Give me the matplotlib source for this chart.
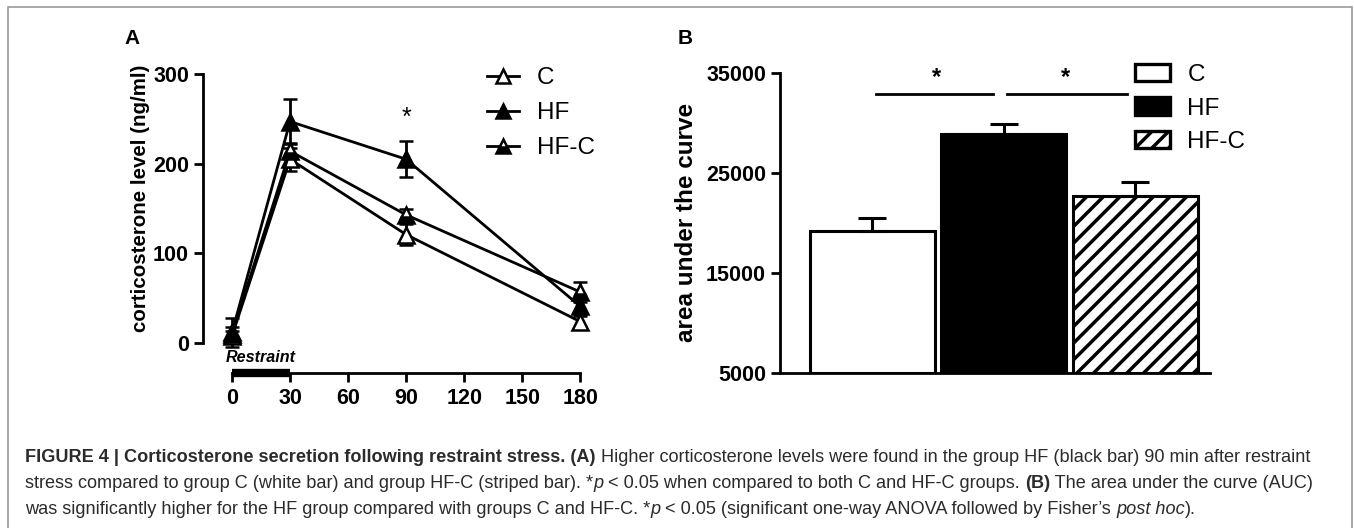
import numpy as np
import matplotlib
matplotlib.use("Agg")
import matplotlib.pyplot as plt
from matplotlib.lines import Line2D
from matplotlib.patches import Patch, Rectangle
from matplotlib.transforms import IdentityTransform

plt.rcParams['font.family'] = ['Liberation Sans', 'DejaVu Sans']
plt.rcParams['hatch.linewidth'] = 2.5

# panel A: corticosterone (ng/ml) over time (min)
time = [0, 30, 90, 180]
c_mean = [8, 205, 121, 24]
c_err = [6, 13, 12, 6]
hf_mean = [12, 247, 205, 41]
hf_err = [16, 25, 20, 8]
hfc_mean = [10, 214, 143, 57]
hfc_err = [8, 9, 6, 11]
restraint = [0, 30]

# panel B: area under the curve
groups = ['C', 'HF', 'HF-C']
auc_mean = [19200, 28900, 22700]
auc_err = [1300, 1000, 1400]

W, H = 1354, 528
fig = plt.figure(figsize=(W / 100, H / 100), dpi=100)

def fx(px):
    return px / W

def fy(py):
    return 1 - py / H

# frame around the figure (bottom edge falls outside the picture)
fig.patches.append(Rectangle((fx(8), fy(535)), fx(1352) - fx(8), fy(7) - fy(535),
                             transform=fig.transFigure, fill=False,
                             edgecolor='#9a9a9a', lw=1.2))

tick_size = 15.5

# ---------- panel A ----------
axA = fig.add_axes([fx(203), fy(373), fx(586) - fx(203), fy(74) - fy(373)])
axA.set_xlim(-15, 183)
axA.set_ylim(-33.3, 300)
lw = 2.0
ekw = dict(capsize=5, capthick=lw, elinewidth=lw, lw=lw, color='black',
           markersize=11, clip_on=False, markeredgewidth=1.8)
axA.errorbar(time, c_mean, yerr=c_err, marker='^', mfc='white', **ekw)
axA.errorbar(time, hfc_mean, yerr=hfc_err, marker='^', fillstyle='bottom',
             mfc='black', mfcalt='white', **ekw)
axA.errorbar(time, hf_mean, yerr=hf_err, marker='^', mfc='black', **ekw)
axA.text(90, 238, '*', ha='center', va='bottom', fontsize=18)

for s in ['top', 'right']:
    axA.spines[s].set_visible(False)
axA.spines['left'].set_bounds(0, 300)
axA.spines['bottom'].set_bounds(0, 180)
for s in ['left', 'bottom']:
    axA.spines[s].set_linewidth(2)
axA.set_yticks([0, 100, 200, 300])
axA.set_xticks([0, 30, 60, 90, 120, 150, 180])
axA.tick_params(width=2, length=6.5, labelsize=tick_size)
axA.tick_params(axis='x', pad=4.5)
for t in axA.get_xticklabels() + axA.get_yticklabels():
    t.set_fontweight('bold')
axA.plot(restraint, [-33.3, -33.3], color='black', lw=6, solid_capstyle='butt',
         clip_on=False)
axA.text(-3, -16, 'Restraint', fontsize=11.6, weight='bold', style='italic',
         ha='left', va='center')
axA.set_ylabel('corticosterone level (ng/ml)', fontsize=14.8, weight='bold')
axA.yaxis.set_label_coords(-0.138, 0.585)

handlesA = [
    Line2D([], [], color='black', lw=lw, marker='^', mfc='white', markersize=10, mew=1.8),
    Line2D([], [], color='black', lw=lw, marker='^', mfc='black', markersize=10, mew=1.8),
    Line2D([], [], color='black', lw=lw, marker='^', fillstyle='bottom', mfc='black',
           mfcalt='white', markersize=10, mew=1.8),
]
fig.legend(handlesA, groups, loc='upper left', bbox_to_anchor=(fx(475), fy(55)),
           frameon=False, fontsize=17.5, handlelength=1.3, handletextpad=0.75,
           labelspacing=0.54, borderpad=0)

fig.text(fx(132), fy(38), 'A', fontsize=15, weight='bold', ha='center', va='center')

# ---------- panel B ----------
axB = fig.add_axes([fx(780), fy(373), fx(1210) - fx(780), fy(73) - fy(373)])
x = np.arange(len(groups))
axB.set_xlim(-0.70, 2.57)
axB.set_ylim(5000, 35000)
faces = ['white', 'black', 'white']
hatches = [None, None, '//']
axB.bar(x, np.array(auc_mean) - 5000, bottom=5000, width=0.95,
        color=faces, edgecolor='black', linewidth=2.2, hatch=hatches)
axB.errorbar(x, auc_mean, yerr=[[0] * 3, auc_err], fmt='none', ecolor='black',
             elinewidth=2.2, capsize=10, capthick=2.2)
for s in ['top', 'right']:
    axB.spines[s].set_visible(False)
for s in ['left', 'bottom']:
    axB.spines[s].set_linewidth(2)
axB.set_xticks([])
axB.set_yticks([5000, 15000, 25000, 35000])
axB.tick_params(width=2, length=6.5, labelsize=tick_size)
for t in axB.get_yticklabels():
    t.set_fontweight('bold')
axB.set_ylabel('area under the curve', fontsize=17.5, weight='bold')
axB.yaxis.set_label_coords(-0.19, 0.503)

# significance bars
sig_y = 32900
axB.plot([0.03, 0.92], [sig_y, sig_y], color='black', lw=2)
axB.plot([1.03, 1.94], [sig_y, sig_y], color='black', lw=2)
axB.text(0.49, 33400, '*', ha='center', va='bottom', fontsize=17, weight='bold')
axB.text(1.47, 33400, '*', ha='center', va='bottom', fontsize=17, weight='bold')

handlesB = [Patch(facecolor=f, edgecolor='black', linewidth=2.4, hatch=h)
            for f, h in zip(faces, hatches)]
fig.legend(handlesB, groups, loc='upper left', bbox_to_anchor=(fx(1123), fy(52)),
           frameon=False, fontsize=17.5, handlelength=1.45, handleheight=0.72,
           handletextpad=0.7, labelspacing=0.46, borderpad=0)

fig.text(fx(685), fy(39), 'B', fontsize=15, weight='bold', ha='center', va='center')

# ---------- caption ----------
cap_col = '#2b2b2b'
cap_size = 13.1
lines = [
    [('FIGURE 4 | Corticosterone secretion following restraint stress. (A)', 'bold', 'normal'),
     (' Higher corticosterone levels were found in the group HF (black bar) 90 min after restraint', 'normal', 'normal')],
    [('stress compared to group C (white bar) and group HF-C (striped bar). *', 'normal', 'normal'),
     ('p', 'normal', 'italic'),
     (' < 0.05 when compared to both C and HF-C groups. ', 'normal', 'normal'),
     ('(B)', 'bold', 'normal'),
     (' The area under the curve (AUC)', 'normal', 'normal')],
    [('was significantly higher for the HF group compared with groups C and HF-C. *', 'normal', 'normal'),
     ('p', 'normal', 'italic'),
     (' < 0.05 (significant one-way ANOVA followed by Fisher\u2019s ', 'normal', 'normal'),
     ('post hoc', 'normal', 'italic'),
     (').', 'normal', 'normal')],
]
baselines = [462, 488, 514]
renderer = fig.canvas.get_renderer()
for parts, yb in zip(lines, baselines):
    xp = 25
    for s, w, st in parts:
        t = fig.text(xp, H - yb, s, transform=IdentityTransform(), fontsize=cap_size,
                     weight=w, style=st, color=cap_col, va='baseline', ha='left')
        xp = t.get_window_extent(renderer).x1

fig.savefig('out.png', dpi=100)
